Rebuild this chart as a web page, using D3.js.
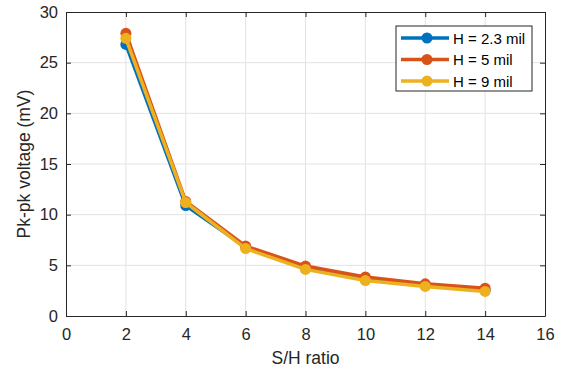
<!DOCTYPE html>
<html>
<head>
<style>
body { margin: 0; background: #fff; font-family: 'Liberation Sans', Arial, sans-serif; }
</style>
</head>
<body>
<svg width="563" height="369"></svg>
<script src="https://d3js.org/d3.v7.min.js"></script>
<script>

// data
var ratios = [2, 4, 6, 8, 10, 12, 14];
var seriesNames = ["H = 2.3 mil", "H = 5 mil", "H = 9 mil"];
var h23 = [26.8, 10.9, 6.8, 4.7, 3.6, 3.0, 2.55];
var h5  = [27.9, 11.3, 6.9, 4.93, 3.85, 3.18, 2.75];
var h9  = [27.4, 11.2, 6.65, 4.6, 3.5, 2.92, 2.42];
var xTicks = [0, 2, 4, 6, 8, 10, 12, 14, 16];
var yTicks = [0, 5, 10, 15, 20, 25, 30];
var colors = ["#0072BD", "#D95319", "#EDB120"];

var svg = d3.select("svg"),
    margin = {top: 12, right: 18, bottom: 53, left: 66},
    width = 563 - margin.left - margin.right,
    height = 369 - margin.top - margin.bottom;

var x = d3.scaleLinear().domain([0, 16]).range([0, width]);
var y = d3.scaleLinear().domain([0, 30]).range([height, 0]);

var g = svg.append("g")
    .attr("transform", "translate(" + margin.left + "," + margin.top + ")");

// grid
g.append("g").selectAll("line").data(xTicks.slice(1, -1)).enter().append("line")
    .attr("x1", function(d) { return x(d); }).attr("x2", function(d) { return x(d); })
    .attr("y1", 0).attr("y2", height)
    .attr("stroke", "#e3e3e3").attr("stroke-width", 1);
g.append("g").selectAll("line").data(yTicks.slice(1, -1)).enter().append("line")
    .attr("y1", function(d) { return y(d); }).attr("y2", function(d) { return y(d); })
    .attr("x1", 0).attr("x2", width)
    .attr("stroke", "#e3e3e3").attr("stroke-width", 1);

// axes
g.append("g")
    .attr("transform", "translate(0," + height + ")")
    .call(d3.axisBottom(x).tickValues(xTicks).tickSizeInner(-5).tickSizeOuter(0).tickPadding(12));
g.append("g")
    .call(d3.axisLeft(y).tickValues(yTicks).tickSizeInner(-5).tickSizeOuter(0).tickPadding(8));
g.append("g")
    .call(d3.axisTop(x).tickValues(xTicks).tickSizeInner(-5).tickSizeOuter(0).tickFormat(""));
g.append("g")
    .attr("transform", "translate(" + width + ",0)")
    .call(d3.axisRight(y).tickValues(yTicks).tickSizeInner(-5).tickSizeOuter(0).tickFormat(""));

g.selectAll(".domain, .tick line").attr("stroke", "#262626").attr("stroke-width", 1);
g.selectAll(".tick text").attr("fill", "#262626").style("font-size", "16.5px")
    .style("font-family", "'Liberation Sans', Arial, sans-serif");

// labels
svg.append("text")
    .attr("x", margin.left + width / 2).attr("y", 364)
    .attr("text-anchor", "middle").attr("fill", "#262626")
    .style("font-size", "17.5px").text("S/H ratio");
svg.append("text")
    .attr("transform", "translate(30," + (margin.top + height / 2) + ") rotate(-90)")
    .attr("text-anchor", "middle").attr("fill", "#262626")
    .style("font-size", "17.5px").text("Pk-pk voltage (mV)");

// series
var series = [h23, h5, h9];
var line = d3.line()
    .x(function(d, i) { return x(ratios[i]); })
    .y(function(d) { return y(d); });

series.forEach(function(vals, k) {
  var s = g.append("g");
  s.append("path").datum(vals)
      .attr("d", line)
      .attr("fill", "none")
      .attr("stroke", colors[k])
      .attr("stroke-width", 3.5)
      .attr("stroke-linejoin", "round");
  s.selectAll("circle").data(vals).enter().append("circle")
      .attr("cx", function(d, i) { return x(ratios[i]); })
      .attr("cy", function(d) { return y(d); })
      .attr("r", 5.5)
      .attr("fill", colors[k]);
});

// legend
var legend = svg.append("g").attr("transform", "translate(396,26)");
legend.append("rect")
    .attr("width", 136).attr("height", 65)
    .attr("fill", "#fff").attr("stroke", "#262626").attr("stroke-width", 1);
var items = legend.selectAll(".item").data(seriesNames).enter().append("g")
    .attr("transform", function(d, i) { return "translate(0," + (12 + i * 21.5) + ")"; });
items.append("line")
    .attr("x1", 5).attr("x2", 53).attr("y1", 0).attr("y2", 0)
    .attr("stroke", function(d, i) { return colors[i]; })
    .attr("stroke-width", 3.5);
items.append("circle")
    .attr("cx", 31).attr("cy", 0).attr("r", 5.5)
    .attr("fill", function(d, i) { return colors[i]; });
items.append("text")
    .attr("x", 57).attr("y", 5.5)
    .attr("fill", "#000").style("font-size", "15px")
    .text(function(d) { return d; });

</script>
</body>
</html>
